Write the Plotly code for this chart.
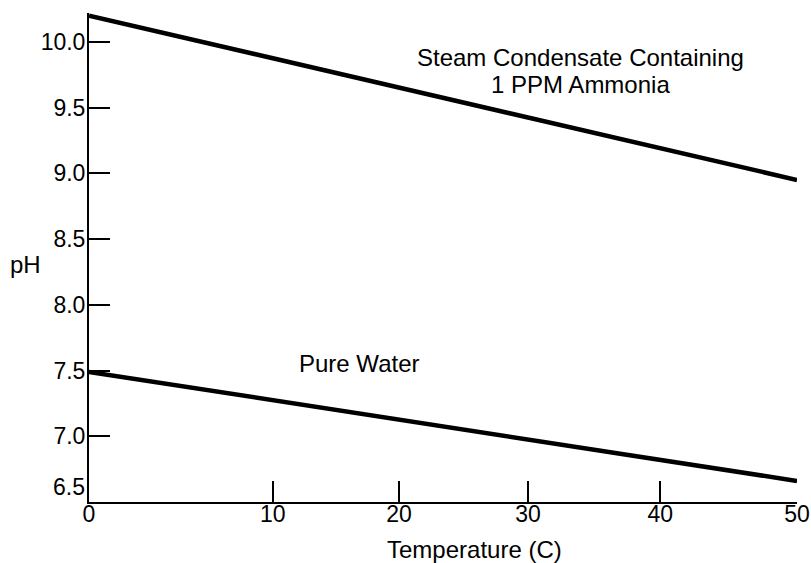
import plotly.graph_objects as go

# Data
temperature = [0, 50]
ph_ammonia = [10.2, 8.95]
ph_pure = [7.49, 6.66]

x_tick_labels = ["0", "10", "20", "30", "40", "50"]
y_tick_labels = ["7.0", "7.5", "8.0", "8.5", "9.0", "9.5", "10.0"]
y_tick_values = [7.0, 7.5, 8.0, 8.5, 9.0, 9.5, 10.0]

series_labels = ["Steam Condensate Containing", "1 PPM Ammonia", "Pure Water"]

FONT = "Liberation Sans, Arial, sans-serif"

fig = go.Figure()
fig.add_trace(go.Scatter(x=temperature, y=ph_ammonia, mode="lines",
                         line=dict(color="black", width=4.5), showlegend=False))
fig.add_trace(go.Scatter(x=temperature, y=ph_pure, mode="lines",
                         line=dict(color="black", width=4.5), showlegend=False))

ann_font = dict(family=FONT, size=24, color="black")

fig.update_layout(
    width=811, height=563,
    margin=dict(l=89, r=14, t=13, b=61, autoexpand=False),
    paper_bgcolor="white", plot_bgcolor="white",
    font=dict(family=FONT, size=23, color="black"),
    xaxis=dict(range=[0, 50], showgrid=False, zeroline=False, automargin=False,
               showline=True, linecolor="black", linewidth=2,
               ticks="inside", ticklen=21, tickwidth=2, tickcolor="black",
               tickvals=[0, 12.98, 21.9, 31.0, 40.34, 50],
               ticktext=x_tick_labels, ticklabelstandoff=-10,
               ticklabeloverflow="allow"),
    yaxis=dict(range=[6.5, 10.22], showgrid=False, zeroline=False, automargin=False,
               showline=True, linecolor="black", linewidth=2,
               ticks="inside", ticklen=21, tickwidth=2, tickcolor="black",
               tickvals=y_tick_values, ticktext=y_tick_labels,
               ticklabelstandoff=-3, ticklabeloverflow="allow"),
    annotations=[
        dict(text=series_labels[0], x=34.7, y=9.88, xref="x", yref="y",
             showarrow=False, xanchor="center", yanchor="middle", font=ann_font),
        dict(text=series_labels[1], x=34.7, y=9.675, xref="x", yref="y",
             showarrow=False, xanchor="center", yanchor="middle", font=ann_font),
        dict(text=series_labels[2], x=19.1, y=7.55, xref="x", yref="y",
             showarrow=False, xanchor="center", yanchor="middle", font=ann_font),
        dict(text="pH", x=-0.089, y=8.31, xref="paper", yref="y",
             showarrow=False, xanchor="center", yanchor="middle", font=ann_font),
        dict(text="Temperature (C)", x=0.544, y=-0.097, xref="paper", yref="paper",
             showarrow=False, xanchor="center", yanchor="middle", font=ann_font),
        dict(text="6.5", x=0, y=6.5, xref="paper", yref="y", xshift=-2, yshift=15,
             showarrow=False, xanchor="right", yanchor="middle"),
    ],
)

fig.write_html("out.html", config={"displayModeBar": False},
               post_script="document.body.style.margin='0';")
